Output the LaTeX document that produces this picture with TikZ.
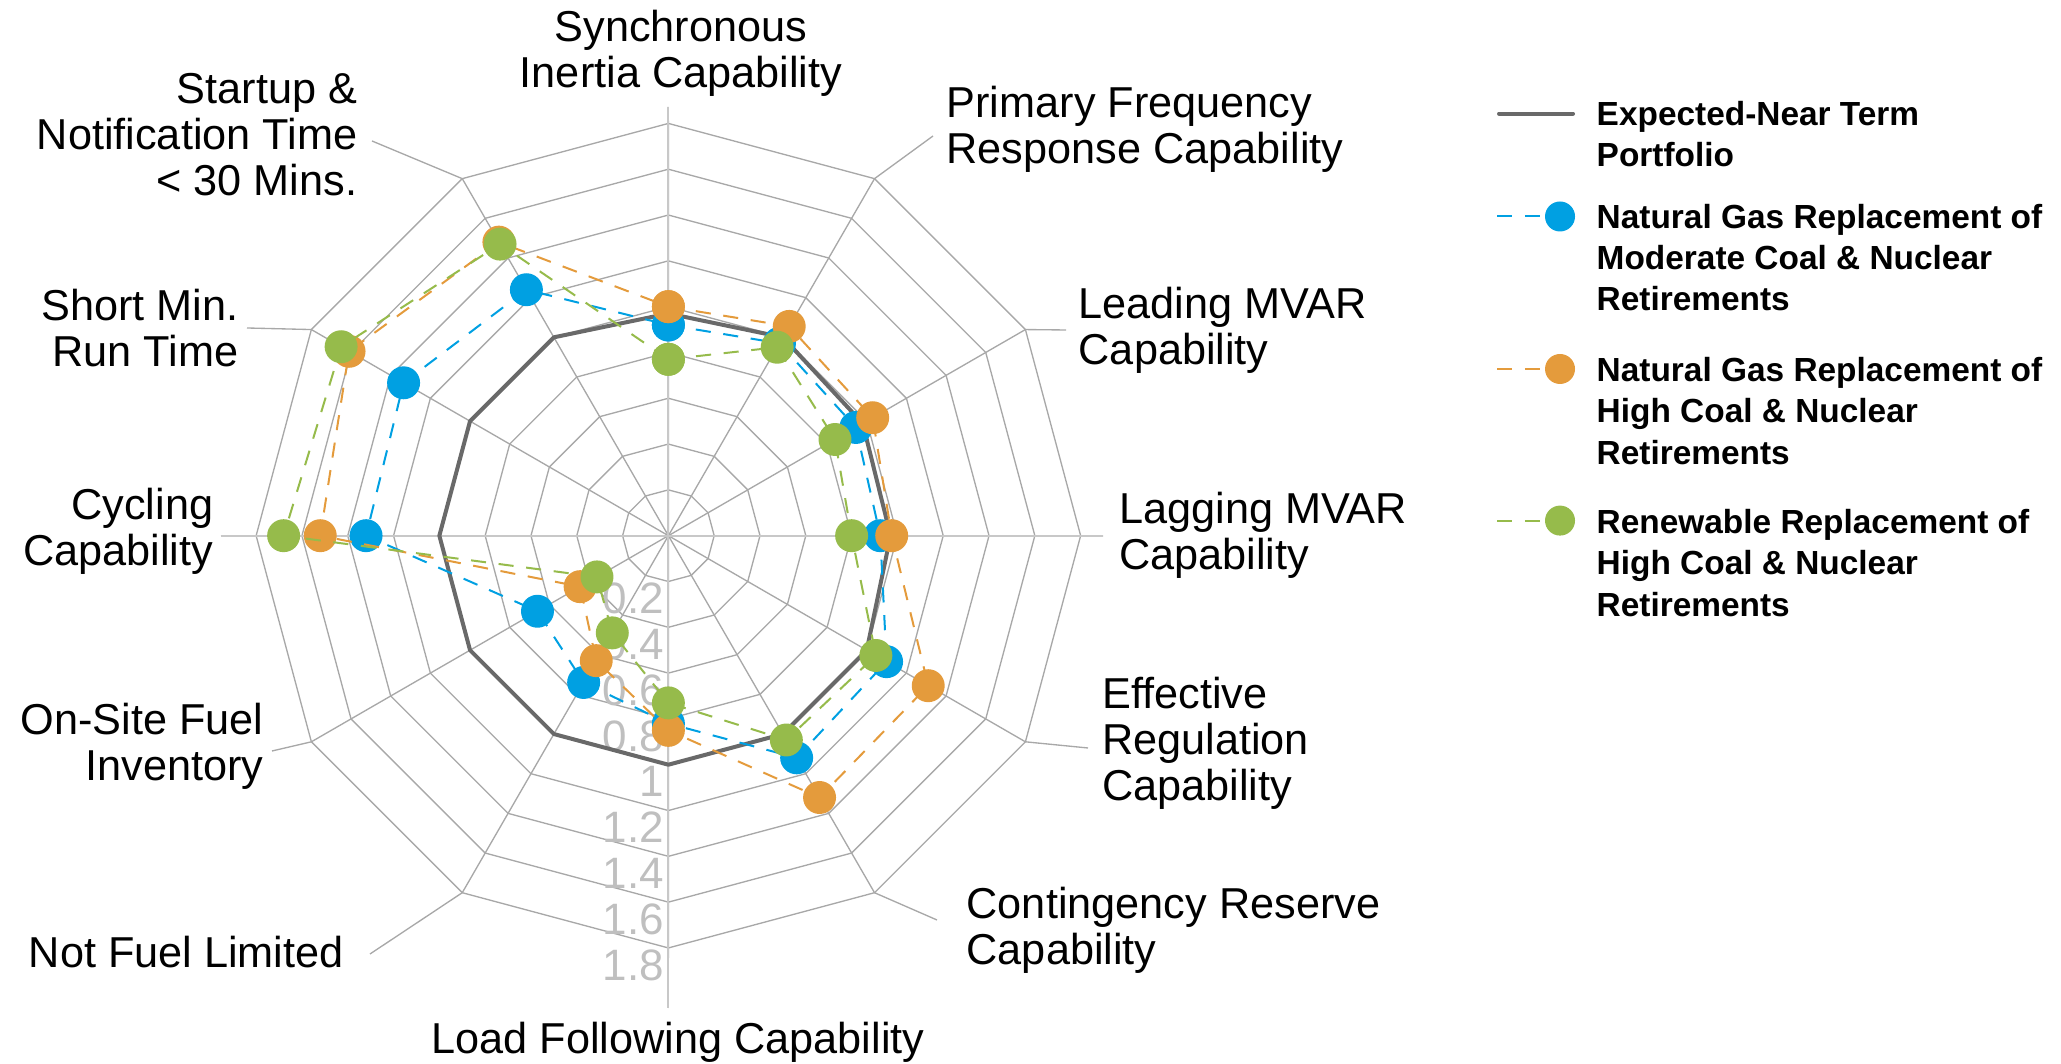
\documentclass[tikz,border=0pt]{standalone}
\usepackage{fontspec}
\setmainfont{Liberation Sans}
\usetikzlibrary{calc}

\definecolor{gridgray}{RGB}{168,168,168}
\definecolor{axisgray}{RGB}{200,200,200}
\definecolor{ticktext}{RGB}{191,191,191}
\definecolor{nearterm}{RGB}{105,105,105}
\definecolor{gasmod}{RGB}{0,160,226}
\definecolor{gashigh}{RGB}{228,155,60}
\definecolor{renew}{RGB}{150,187,75}

\tikzset{
  ringline/.style={gridgray, line width=0.38pt},
  axisline/.style={axisgray, line width=0.6pt},
  ticklabel/.style={ticktext, anchor=north east, inner sep=0pt, font=\fontsize{12.5}{13}\selectfont},
  axislabel/.style={inner sep=0pt, font=\fontsize{12.3}{13.1}\selectfont},
  legendtext/.style={inner sep=0pt, align=left, font=\fontsize{9.5}{11.7}\selectfont\bfseries},
  nearline/.style={nearterm, line width=1.14pt, line join=round},
  dashser/.style={line width=0.57pt, dash pattern=on 4.3pt off 3.6pt},
  dots/.style={mark=*, mark size=4.4pt, mark options={solid, draw=none, fill=#1}},
}

\begin{document}
\begin{tikzpicture}[x=0.01cm, y=0.01cm]
\useasboundingbox (0,0) rectangle (2061,1064);

% ends of the label leaders
\coordinate (e90) at (668,957);
\coordinate (e60) at (933,928);
\coordinate (e30) at (1066,734);
\coordinate (e0) at (1103,528);
\coordinate (e330) at (1088,316);
\coordinate (e300) at (937,144);
\coordinate (e270) at (668,56);
\coordinate (e240) at (370,110);
\coordinate (e210) at (272,313);
\coordinate (e180) at (221,528);
\coordinate (e150) at (247,736);
\coordinate (e120) at (372,923);

\begin{scope}[shift={(6.68cm,5.28cm)}, x=2.289cm, y=2.289cm]
  % web
  \foreach \r in {0.2,0.4,...,1.8}
    \draw[ringline] (0:\r) \foreach \a in {30,60,...,330}{ -- (\a:\r)} -- cycle;
  \foreach \a in {0,30,...,330}{
    \coordinate (v\a) at (\a:1.8);
    \draw[ringline] (0,0) -- (v\a) -- (e\a);
  }
  \draw[axisline] (e180) -- (e0);
  \draw[axisline] (e90) -- (e270);

  % value axis
  \foreach \v/\t [count=\i] in {0.2/0.2,0.4/0.4,0.6/0.6,0.8/0.8,1/1,1.2/1.2,1.4/1.4,1.6/1.6,1.8/1.8}
    \node[ticklabel] (tick\i) at ($(270:\v)+(-0.017,-0.004)$) {\t};

  % series
  \draw[nearline] (90:0.97) -- (60:1.0) -- (30:0.98) -- (0:0.97) -- (-30:1.0) -- (-60:1.0) -- (-90:1.0)
    -- (-120:1.0) -- (-150:1.0) -- (180:1.0) -- (150:1.0) -- (120:1.0) -- cycle;
  \draw[dashser, gasmod] plot[dots=gasmod] coordinates {(90:0.92) (60:0.97) (30:0.945) (0:0.925) (-30:1.10)
    (-60:1.12) (-90:0.82) (-120:0.74) (-150:0.66) (180:1.32) (150:1.335) (120:1.24) (90:0.92)};
  \draw[dashser, gashigh] plot[dots=gashigh] coordinates {(90:1.0) (60:1.055) (30:1.03) (0:0.975) (-30:1.31)
    (-60:1.32) (-90:0.85) (-120:0.63) (-150:0.445) (180:1.52) (150:1.61) (120:1.48) (90:1.0)};
  \draw[dashser, renew] plot[dots=renew] coordinates {(90:0.77) (60:0.95) (30:0.84) (0:0.80) (-30:1.046)
    (-60:1.03) (-90:0.73) (-120:0.49) (-150:0.36) (180:1.68) (150:1.65) (120:1.47) (90:0.77)};
\end{scope}

% category labels
\node[axislabel, align=center] (sync) at (681,1011) {Synchronous\\Inertia Capability};
\node[axislabel, align=left, anchor=west] (pfr) at (946,934.5) {Primary Frequency\\Response Capability};
\node[axislabel, align=left, anchor=west] (lead) at (1078,733.4) {Leading MVAR\\Capability};
\node[axislabel, align=left, anchor=west] (lag) at (1118.6,528.3) {Lagging MVAR\\Capability};
\node[axislabel, align=left, anchor=west] (reg) at (1101.5,320.4) {Effective\\Regulation\\Capability};
\node[axislabel, align=left, anchor=west] (cont) at (966,133.5) {Contingency Reserve\\Capability};
\node[axislabel] (load) at (678,22) {Load Following Capability};
\node[axislabel, anchor=east] (fuel) at (344.4,112) {Not Fuel Limited};
\node[axislabel, align=right, anchor=east] (onsite) at (264,318) {On-Site Fuel\\Inventory};
\node[axislabel, align=right, anchor=east] (cyc) at (214,532.3) {Cycling\\Capability};
\node[axislabel, align=right, anchor=east] (minrun) at (239,736) {Short Min.\\Run Time};
\node[axislabel, align=right, anchor=east] (start) at (358,929.5) {Startup \&\\Notification Time\\\textless{} 30 Mins.};

% legend
\draw[nearline, line cap=round] (1499,950.4) -- (1573,950.4);
\node[legendtext, anchor=west] (lgnear) at (1596,930.2) {Expected-Near Term\\Portfolio};
\draw[dashser, gasmod] (1497,847.5) -- (1545,847.5);
\fill[gasmod] (1560,847.5) circle (15);
\node[legendtext, anchor=west] (lgmod) at (1596,806.5) {Natural Gas Replacement of\\Moderate Coal \& Nuclear\\Retirements};
\draw[dashser, gashigh] (1497,695) -- (1545,695);
\fill[gashigh] (1560,695) circle (15);
\node[legendtext, anchor=west] (lghigh) at (1596,653) {Natural Gas Replacement of\\High Coal \& Nuclear\\Retirements};
\draw[dashser, renew] (1497,543.4) -- (1545,543.4);
\fill[renew] (1560,543.4) circle (15);
\node[legendtext, anchor=west] (lgren) at (1596,501) {Renewable Replacement of\\High Coal \& Nuclear\\Retirements};
\end{tikzpicture}
\end{document}
